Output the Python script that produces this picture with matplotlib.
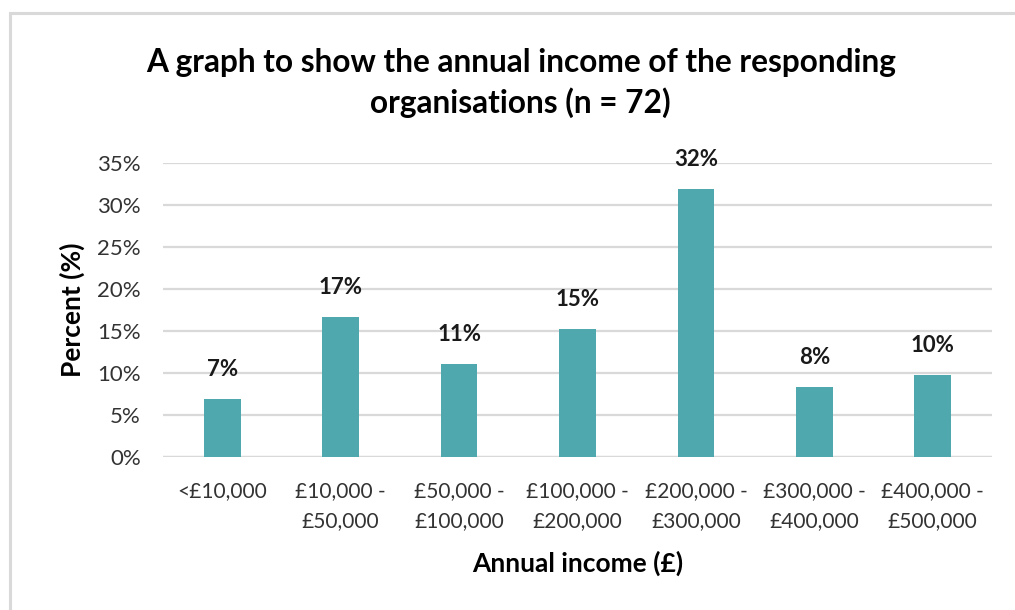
import numpy as np
import matplotlib.pyplot as plt
from matplotlib.patches import Rectangle

plt.rcParams['font.family'] = ['Lato', 'DejaVu Sans']

# share of the 72 responding organisations in each income band (%)
income_bands = ["<£10,000", "£10,000 -\n£50,000", "£50,000 -\n£100,000",
                "£100,000 -\n£200,000", "£200,000 -\n£300,000",
                "£300,000 -\n£400,000", "£400,000 -\n£500,000"]
percent = [6.94, 16.67, 11.11, 15.28, 31.94, 8.33, 9.72]

bar_color = "#4FA8AE"
grid_color = "#D9D9D9"

fig = plt.figure(figsize=(10.15, 6.10), dpi=100)
ax = fig.add_axes([0.1606, 0.2508, 0.8167, 0.4820])

# outer chart border (runs off the right and bottom edges)
fig.patches.append(Rectangle((10 / 1015, -0.1), 1.2, 1 - 13 / 610 + 0.1,
                             transform=fig.transFigure, fill=False,
                             edgecolor="#D9D9D9", linewidth=2.2))

x = np.arange(len(income_bands))
ax.bar(x, percent, width=0.31, color=bar_color, zorder=3)

for xi, v in zip(x, percent):
    ax.text(xi, v + 3.5, f"{v:.0f}%", ha="center", va="center",
            fontsize=16, fontweight="bold", color="#1a1a1a")

ax.set_xlim(-0.5, len(income_bands) - 0.5)
ax.set_ylim(0, 35)
ax.set_yticks(np.arange(0, 36, 5))
ax.set_yticklabels([f"{t}%" for t in range(0, 36, 5)])
ax.set_xticks(x)
ax.set_xticklabels(income_bands, linespacing=1.65)

ax.yaxis.grid(True, color=grid_color, linewidth=1.6, zorder=0)
for s in ax.spines.values():
    s.set_visible(False)
ax.axhline(0, color=grid_color, linewidth=1.6, zorder=1)
ax.tick_params(axis="both", length=0, colors="#333333")
ax.tick_params(axis="y", pad=16, labelsize=16)
ax.tick_params(axis="x", pad=17, labelsize=15)

ax.set_ylabel("Percent (%)", fontsize=19, fontweight="bold", labelpad=9)
ax.set_xlabel("Annual income (£)", fontsize=19, fontweight="bold", labelpad=14)

fig.text(0.513, 0.864, "A graph to show the annual income of the responding\norganisations (n = 72)",
         ha="center", va="center", fontsize=22.8, fontweight="bold",
         linespacing=1.4)

fig.savefig("out.png", dpi=100)
